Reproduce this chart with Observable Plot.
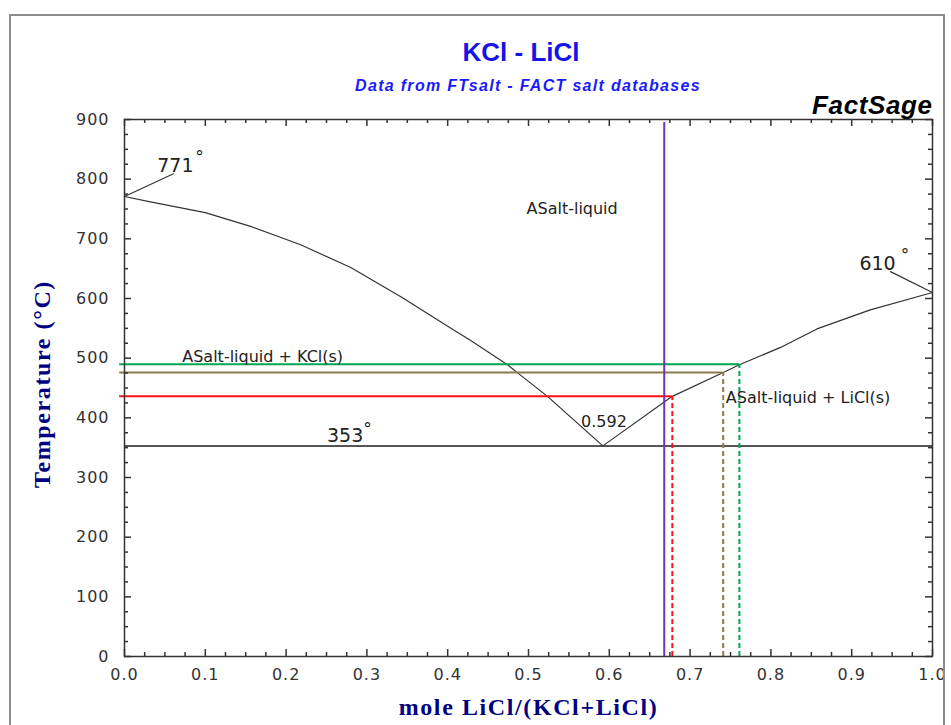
<!DOCTYPE html>
<html>
<head>
<meta charset="utf-8">
<script src="https://cdn.jsdelivr.net/npm/d3@7"></script>
<script src="https://cdn.jsdelivr.net/npm/@observablehq/plot@0.6"></script>
<style>
  body { margin: 0; background: #fff; }
  #wrap { position: relative; width: 951px; height: 725px; overflow: hidden; background: #fff; }
  #header { position: relative; height: 90px; }
  #title { position: absolute; left: 521px; top: 39px; transform: translateX(-50%); font: bold 26px/26px "Liberation Sans", Arial, sans-serif; color: #1414e6; white-space: nowrap; }
  #subtitle { position: absolute; left: 528px; top: 78px; transform: translateX(-50%); font: italic bold 16px/16px "Liberation Sans", Arial, sans-serif; color: #1a1aff; letter-spacing: 1.3px; white-space: nowrap; }
  #border { position: absolute; left: 9px; top: 14px; width: 932px; height: 720px; border: 2px solid #8c8c8c; border-bottom: none; pointer-events: none; }
  g[aria-label="x-axis tick label"] text, g[aria-label="y-axis tick label"] text { letter-spacing: 1px; }
</style>
</head>
<body>
<div id="wrap">
  <div id="header">
    <div id="title">KCl - LiCl</div>
    <div id="subtitle">Data from FTsalt - FACT salt databases</div>
  </div>
  <div id="chart"></div>
  <div id="border"></div>
</div>
<script>
// ---- data ----
// liquidus, KCl-rich side (mole fraction LiCl, temperature °C)
const kclLiquidusX = [0, 0.032, 0.1, 0.156, 0.218, 0.28, 0.342, 0.403, 0.428, 0.474, 0.485, 0.5235, 0.592];
const kclLiquidusT = [771, 762, 744, 721, 690, 652, 603, 551, 530, 489, 477, 436, 353];
// liquidus, LiCl-rich side
const liclLiquidusX = [0.592, 0.678, 0.741, 0.761, 0.812, 0.857, 0.923, 1];
const liclLiquidusT = [353, 436, 476, 489, 518, 549, 581, 610];
// eutectic
const eutecticT = 353;
const eutecticX = [0, 1];
// coloured construction lines (horizontal at T, dashed drop at X)
const tieT = [490, 476, 436];
const tieX = [0.761, 0.741, 0.678];
const tieColors = ["#00a650", "#8c7b4b", "#ff1010"];
const tieStartX = -0.006;
// purple composition line
const purpleX = 0.668;
const purpleTop = 895;
// melting point leader lines
const leader771X = [0, 0.0606];
const leader771T = [771, 809];
const leader610X = [1, 0.948];
const leader610T = [610, 645];
// numeric point labels
const pointLabels = ["771", "610", "353"];
const pointLabelX = [0.063, 0.932, 0.273];
const pointLabelT = [823, 658, 370];
const degreeX = [0.0928, 0.966, 0.3007];
const degreeT = [843, 679, 387];
const eutecticLabel = "0.592";
const eutecticLabelX = 0.5934;
const eutecticLabelT = 394;
// phase field labels
const fieldLabels = ["ASalt-liquid", "ASalt-liquid + KCl(s)", "ASalt-liquid + LiCl(s)"];
const fieldLabelX = [0.554, 0.171, 0.846];
const fieldLabelT = [751, 503, 434];
// ticks
const xMajor = [0, 0.1, 0.2, 0.3, 0.4, 0.5, 0.6, 0.7, 0.8, 0.9, 1.0];
const xMinor = [0.025, 0.05, 0.075, 0.125, 0.15, 0.175, 0.225, 0.25, 0.275, 0.325, 0.35, 0.375,
  0.425, 0.45, 0.475, 0.525, 0.55, 0.575, 0.625, 0.65, 0.675, 0.725, 0.75, 0.775,
  0.825, 0.85, 0.875, 0.925, 0.95, 0.975];
const yMajor = [0, 100, 200, 300, 400, 500, 600, 700, 800, 900];
const yMinor = [25, 50, 75, 125, 150, 175, 225, 250, 275, 325, 350, 375, 425, 450, 475,
  525, 550, 575, 625, 650, 675, 725, 750, 775, 825, 850, 875];
const xTitle = "mole LiCl/(KCl+LiCl)";
const yTitle = "Temperature (°C)";
const brand = "FactSage";

// ---- build tables ----
const kclBranch = kclLiquidusX.map((x, i) => ({x, t: kclLiquidusT[i]}));
const liclBranch = liclLiquidusX.map((x, i) => ({x, t: liclLiquidusT[i]}));
const lead771 = leader771X.map((x, i) => ({x, t: leader771T[i]}));
const lead610 = leader610X.map((x, i) => ({x, t: leader610T[i]}));
const ptLabels = pointLabels.map((s, i) => ({s, x: pointLabelX[i], t: pointLabelT[i]}));
const degs = degreeX.map((x, i) => ({s: "°", x, t: degreeT[i]}));
const fields = fieldLabels.map((s, i) => ({s, x: fieldLabelX[i], t: fieldLabelT[i]}));

// ---- layout ----
const W = 951, H = 635, mt = 29, mb = 69, ml = 124, mr = 19;
const pw = W - ml - mr, ph = H - mt - mb;
const major = 7, minor = 4;
const axisColor = "#333";

const tieMarks = tieT.flatMap((t, i) => [
  Plot.ruleY([t], {x1: tieStartX, x2: tieX[i], stroke: tieColors[i], strokeWidth: 2}),
  Plot.ruleX([tieX[i]], {y1: 0, y2: t, stroke: tieColors[i], strokeWidth: 2, strokeDasharray: "5,3"})
]);

const chart = Plot.plot({
  width: W, height: H,
  marginTop: mt, marginBottom: mb, marginLeft: ml, marginRight: mr,
  x: {domain: [0, 1]},
  y: {domain: [0, 900]},
  style: {fontFamily: "DejaVu Sans", fontSize: "16px", color: axisColor, background: "transparent"},
  marks: [
    // eutectic
    Plot.ruleY([eutecticT], {x1: eutecticX[0], x2: eutecticX[1], stroke: "#555", strokeWidth: 2}),
    // liquidus
    Plot.line(kclBranch, {x: "x", y: "t", stroke: "#333", strokeWidth: 1.2}),
    Plot.line(liclBranch, {x: "x", y: "t", stroke: "#333", strokeWidth: 1.2}),
    Plot.line(lead771, {x: "x", y: "t", stroke: "#333", strokeWidth: 1.2}),
    Plot.line(lead610, {x: "x", y: "t", stroke: "#333", strokeWidth: 1.2}),
    ...tieMarks,
    Plot.ruleX([purpleX], {y1: 0, y2: purpleTop, stroke: "#7432b4", strokeWidth: 2}),
    // frame + inward ticks on all four sides
    Plot.frame({stroke: axisColor, strokeWidth: 1.5}),
    Plot.tickX(xMajor, {x: d => d, insetTop: ph - major, stroke: axisColor, strokeWidth: 1.5}),
    Plot.tickX(xMinor, {x: d => d, insetTop: ph - minor, stroke: axisColor, strokeWidth: 1.5}),
    Plot.tickX(xMajor, {x: d => d, insetBottom: ph - major, stroke: axisColor, strokeWidth: 1.5}),
    Plot.tickX(xMinor, {x: d => d, insetBottom: ph - minor, stroke: axisColor, strokeWidth: 1.5}),
    Plot.tickY(yMajor, {y: d => d, insetRight: pw - major, stroke: axisColor, strokeWidth: 1.5}),
    Plot.tickY(yMinor, {y: d => d, insetRight: pw - minor, stroke: axisColor, strokeWidth: 1.5}),
    Plot.tickY(yMajor, {y: d => d, insetLeft: pw - major, stroke: axisColor, strokeWidth: 1.5}),
    Plot.tickY(yMinor, {y: d => d, insetLeft: pw - minor, stroke: axisColor, strokeWidth: 1.5}),
    // tick labels
    Plot.axisX(xMajor, {anchor: "bottom", tickSize: 0, tickPadding: 12, tickFormat: d3.format(".1f"), label: null, fontSize: 16}),
    Plot.axisY(yMajor, {anchor: "left", tickSize: 0, tickPadding: 15, tickFormat: d => String(d), label: null, fontSize: 16}),
    // annotations
    Plot.text(ptLabels, {x: "x", y: "t", text: "s", fontSize: 19, fill: "#222", lineAnchor: "middle"}),
    Plot.text(degs, {x: "x", y: "t", text: "s", fontSize: 17, fill: "#222", lineAnchor: "middle", dy: 4}),
    Plot.text([eutecticLabel], {x: eutecticLabelX, y: eutecticLabelT, text: d => d, fontSize: 16, fill: "#222", lineAnchor: "middle"}),
    Plot.text(fields, {x: "x", y: "t", text: "s", fontSize: 16, fill: "#222", lineAnchor: "middle"}),
    // brand, axis titles
    Plot.text([brand], {frameAnchor: "top-right", text: d => d, textAnchor: "end", lineAnchor: "middle", dy: -14,
      fontFamily: "Liberation Sans", fontWeight: "bold", fontStyle: "italic", fontSize: 26, fill: "#000"}),
    Plot.text([xTitle], {frameAnchor: "bottom", text: d => d, textAnchor: "middle", lineAnchor: "middle", dy: 51,
      fontFamily: "Liberation Serif", fontWeight: "bold", fontSize: 24, fill: "#000080"}),
    Plot.text([yTitle], {frameAnchor: "left", text: d => d, rotate: -90, textAnchor: "middle", lineAnchor: "middle", dx: -82, dy: -4,
      fontFamily: "Liberation Serif", fontWeight: "bold", fontSize: 24, fill: "#000080"})
  ]
});

d3.select(chart).selectAll("text")
  .filter(function () { return this.textContent === xTitle || this.textContent === yTitle; })
  .attr("letter-spacing", "1.6px");
d3.select(chart).selectAll("text")
  .filter(function () { return this.textContent === brand; })
  .attr("letter-spacing", "0.6px");

document.getElementById("chart").appendChild(chart);
</script>
</body>
</html>
